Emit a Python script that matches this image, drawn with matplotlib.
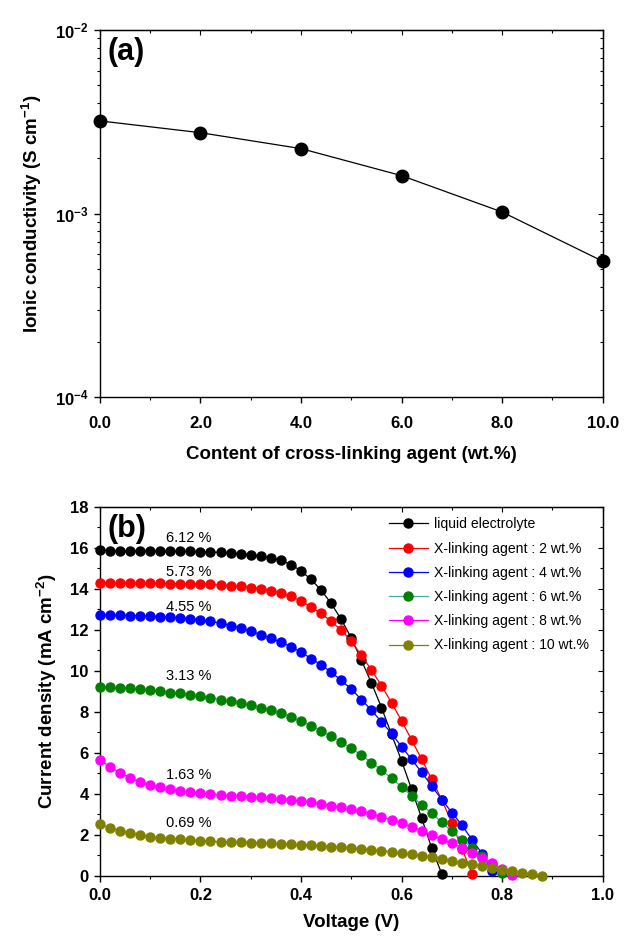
import matplotlib
matplotlib.use('Agg')
import matplotlib.pyplot as plt
from matplotlib.ticker import MultipleLocator, FormatStrFormatter

plt.rcParams['font.family'] = ['Liberation Sans', 'DejaVu Sans']
plt.rcParams['mathtext.default'] = 'regular'

# (a) ionic conductivity vs cross-linker content
content = [0, 2, 4, 6, 8, 10]
conductivity = [3.2e-3, 2.76e-3, 2.26e-3, 1.61e-3, 1.02e-3, 5.5e-4]

# (b) J-V curves, 0.02 V steps
volts = [0.00, 0.02, 0.04, 0.06, 0.08, 0.10, 0.12, 0.14, 0.16, 0.18,
         0.20, 0.22, 0.24, 0.26, 0.28, 0.30, 0.32, 0.34, 0.36, 0.38,
         0.40, 0.42, 0.44, 0.46, 0.48, 0.50, 0.52, 0.54, 0.56, 0.58,
         0.60, 0.62, 0.64, 0.66, 0.68, 0.70, 0.72, 0.74, 0.76, 0.78,
         0.80, 0.82, 0.84, 0.86, 0.88]

j_liquid = [15.90, 15.87, 15.86, 15.86, 15.86, 15.85, 15.85, 15.84, 15.84, 15.83,
            15.82, 15.80, 15.78, 15.75, 15.71, 15.66, 15.60, 15.51, 15.39, 15.19,
            14.88, 14.46, 13.94, 13.29, 12.51, 11.61, 10.52, 9.41, 8.21, 6.90,
            5.60, 4.21, 2.80, 1.34, 0.08]
j_2wt = [14.29, 14.28, 14.28, 14.28, 14.27, 14.27, 14.27, 14.26, 14.25, 14.25,
         14.24, 14.22, 14.19, 14.16, 14.12, 14.06, 14.00, 13.92, 13.80, 13.63,
         13.41, 13.12, 12.80, 12.42, 11.99, 11.45, 10.75, 10.05, 9.28, 8.44,
         7.56, 6.62, 5.68, 4.70, 3.70, 2.57, 1.32, 0.10]
j_4wt = [12.75, 12.73, 12.72, 12.70, 12.69, 12.67, 12.64, 12.62, 12.59, 12.54,
         12.49, 12.42, 12.33, 12.21, 12.08, 11.93, 11.77, 11.59, 11.40, 11.18,
         10.91, 10.60, 10.29, 9.94, 9.53, 9.11, 8.60, 8.08, 7.51, 6.95,
         6.29, 5.68, 5.04, 4.38, 3.71, 3.08, 2.46, 1.76, 1.08, 0.22]
j_6wt = [9.22, 9.19, 9.17, 9.14, 9.09, 9.06, 9.01, 8.94, 8.90, 8.83,
         8.77, 8.69, 8.60, 8.52, 8.42, 8.33, 8.21, 8.08, 7.93, 7.76,
         7.55, 7.33, 7.07, 6.81, 6.52, 6.21, 5.89, 5.52, 5.15, 4.75,
         4.34, 3.90, 3.45, 3.04, 2.60, 2.16, 1.75, 1.37, 0.96, 0.57,
         0.15]
j_8wt = [5.64, 5.32, 5.03, 4.78, 4.59, 4.42, 4.31, 4.21, 4.13, 4.07,
         4.02, 3.99, 3.94, 3.91, 3.89, 3.86, 3.83, 3.80, 3.76, 3.70,
         3.64, 3.58, 3.50, 3.42, 3.34, 3.24, 3.14, 3.03, 2.88, 2.73,
         2.56, 2.39, 2.20, 1.98, 1.77, 1.58, 1.37, 1.13, 0.88, 0.62,
         0.33, 0.05]
j_10wt = [2.52, 2.34, 2.20, 2.07, 1.99, 1.90, 1.85, 1.81, 1.77, 1.74,
          1.71, 1.68, 1.66, 1.65, 1.63, 1.61, 1.60, 1.58, 1.55, 1.53,
          1.50, 1.48, 1.45, 1.42, 1.38, 1.35, 1.31, 1.27, 1.22, 1.17,
          1.11, 1.04, 0.98, 0.92, 0.84, 0.74, 0.64, 0.57, 0.47, 0.39,
          0.29, 0.21, 0.15, 0.08, 0.00]

curves = [j_liquid, j_2wt, j_4wt, j_6wt, j_8wt, j_10wt]
labels = ['liquid electrolyte', 'X-linking agent : 2 wt.%', 'X-linking agent : 4 wt.%',
          'X-linking agent : 6 wt.%', 'X-linking agent : 8 wt.%', 'X-linking agent : 10 wt.%']
line_colors = ['black', 'red', 'blue', '#4aa8a4', 'magenta', '#808000']
marker_colors = ['black', 'red', 'blue', '#008000', 'magenta', '#808000']

efficiency = ['6.12 %', '5.73 %', '4.55 %', '3.13 %', '1.63 %', '0.69 %']
eff_y = [16.5, 14.83, 13.13, 9.74, 4.91, 2.56]


def style_axes(ax, xpad=4):
    for s in ax.spines.values():
        s.set_linewidth(1.0)
    ax.tick_params(which='major', direction='out', length=4.5, width=1.0,
                   labelsize=12, top=False, right=False)
    ax.tick_params(which='minor', direction='out', length=2.5, width=0.8,
                   top=False, right=False)
    ax.tick_params(axis='x', which='major', pad=xpad)
    for t in ax.get_xticklabels() + ax.get_yticklabels():
        t.set_fontweight('bold')
    top = ax.secondary_xaxis('top')
    right = ax.secondary_yaxis('right')
    for sec in (top, right):
        sec.tick_params(which='both', direction='in', labelleft=False,
                        labelright=False, labeltop=False, labelbottom=False)
        sec.tick_params(which='major', length=3.5, width=0.8)
        sec.tick_params(which='minor', length=2.5, width=0.8)
    return top, right


fig = plt.figure(figsize=(6.24, 9.39), dpi=100)

# ---- panel (a)
ax1 = fig.add_axes([0.160, 0.577, 0.806, 0.391])
ax1.plot(content, conductivity, '-o', color='black', lw=0.9, ms=9, clip_on=False,
         zorder=3)
ax1.set_yscale('log')
ax1.set_ylim(1e-4, 1e-2)
ax1.set_xlim(0, 10)
ax1.xaxis.set_major_locator(MultipleLocator(2))
ax1.xaxis.set_minor_locator(MultipleLocator(1))
ax1.xaxis.set_major_formatter(FormatStrFormatter('%.1f'))
ax1.set_xlabel('Content of cross-linking agent (wt.%)', fontsize=13.5,
               fontweight='bold', labelpad=11)
ax1.set_ylabel('Ionic conductivity (S cm$^{-1}$)', fontsize=13.5,
               fontweight='bold', labelpad=8)
ax1.text(0.015, 0.98, '(a)', transform=ax1.transAxes, fontsize=22,
         fontweight='bold', ha='left', va='top')
t1, r1 = style_axes(ax1, xpad=9)
t1.xaxis.set_major_locator(MultipleLocator(2))
t1.xaxis.set_minor_locator(MultipleLocator(1))

# ---- panel (b)
ax2 = fig.add_axes([0.160, 0.0674, 0.806, 0.3927])
for j, lab, lc, mc in zip(curves, labels, line_colors, marker_colors):
    ax2.plot(volts[:len(j)], j, '-o', color=lc, mfc=mc, mec=mc, lw=0.9,
             ms=6.5, label=lab, clip_on=False, zorder=3)
for txt, y in zip(efficiency, eff_y):
    ax2.text(0.177, y, txt, fontsize=10.5, ha='center', va='center')
ax2.set_xlim(0, 1.0)
ax2.set_ylim(0, 18)
ax2.xaxis.set_major_locator(MultipleLocator(0.2))
ax2.xaxis.set_minor_locator(MultipleLocator(0.1))
ax2.yaxis.set_major_locator(MultipleLocator(2))
ax2.yaxis.set_minor_locator(MultipleLocator(1))
ax2.xaxis.set_major_formatter(FormatStrFormatter('%.1f'))
ax2.set_xlabel('Voltage (V)', fontsize=13.5, fontweight='bold', labelpad=8)
ax2.set_ylabel('Current density (mA cm$^{-2}$)', fontsize=13.5,
               fontweight='bold', labelpad=8)
ax2.text(0.015, 0.98, '(b)', transform=ax2.transAxes, fontsize=22,
         fontweight='bold', ha='left', va='top')
ax2.legend(loc='upper left', bbox_to_anchor=(0.574, 0.972), frameon=False,
           fontsize=10.1, handlelength=2.8, handletextpad=0.45, labelspacing=0.73,
           borderpad=0, borderaxespad=0)
t2, r2 = style_axes(ax2)
t2.xaxis.set_major_locator(MultipleLocator(0.2))
t2.xaxis.set_minor_locator(MultipleLocator(0.1))
r2.yaxis.set_major_locator(MultipleLocator(2))
r2.yaxis.set_minor_locator(MultipleLocator(1))

fig.savefig('out.png', dpi=100)
